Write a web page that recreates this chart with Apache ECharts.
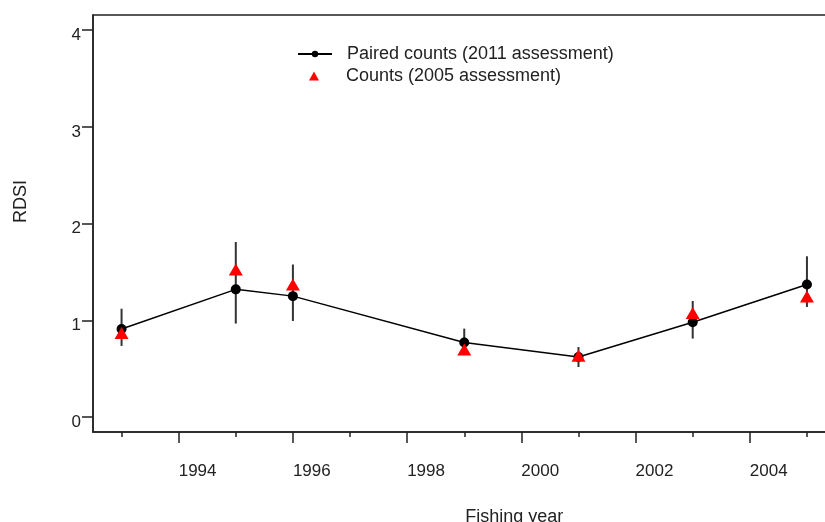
<!DOCTYPE html>
<html>
<head>
<meta charset="utf-8">
<script src="https://cdn.jsdelivr.net/npm/echarts@6/dist/echarts.min.js"></script>
<style>html,body{margin:0;padding:0;background:#fff;}#chart{width:825px;height:522px;}</style>
</head>
<body>
<div id="chart"></div>
<script>
var years = [1993, 1995, 1996, 1999, 2001, 2003, 2005];
var paired2011 = [0.91, 1.32, 1.25, 0.77, 0.62, 0.98, 1.37];
var pairedLow = [0.735, 0.966, 0.993, 0.64, 0.517, 0.811, 1.138];
var pairedHigh = [1.12, 1.81, 1.577, 0.914, 0.724, 1.20, 1.662];
var counts2005 = [0.87, 1.525, 1.371, 0.698, 0.633, 1.075, 1.245];
var majorTicks = [1994, 1996, 1998, 2000, 2002, 2004];
var minorTicks = [1993, 1995, 1997, 1999, 2001, 2003, 2005];
var yTicks = [0, 1, 2, 3, 4];

var FONT = '"Liberation Sans", Arial, sans-serif';
var INK = '#222';

var lineData = years.map(function (y, i) { return [y, paired2011[i]]; });
var errData = years.map(function (y, i) { return [y, pairedLow[i], pairedHigh[i]]; });
var triData = years.map(function (y, i) { return [y, counts2005[i]]; });

var chart = echarts.init(document.getElementById('chart'), null, {renderer: 'canvas'});
chart.setOption({
  animation: false,
  backgroundColor: '#fff',
  textStyle: {fontFamily: FONT},
  grid: {left: 93, top: 15, right: -10.5, bottom: 90, show: true, borderColor: INK, borderWidth: 1.5, backgroundColor: 'transparent', outerBoundsMode: 'none', containLabel: false},
  legend: [{
    data: [{name: 'Paired counts (2011 assessment)'}],
    left: 297, top: 45, padding: 0,
    itemWidth: 34, itemHeight: 8,
    textStyle: {fontSize: 18, color: INK, fontFamily: FONT, padding: [0, 0, 0, 10]},
    selectedMode: false
  }, {
    data: [{name: 'Counts (2005 assessment)', icon: 'triangle'}],
    left: 309, top: 67, padding: 0,
    itemWidth: 10, itemHeight: 9,
    textStyle: {fontSize: 18, color: INK, fontFamily: FONT, padding: [0, 0, 0, 22]},
    selectedMode: false
  }],
  xAxis: [{
    type: 'value', min: 1992.5, max: 2005.5,
    name: 'Fishing year', nameLocation: 'middle', nameGap: 76,
    nameTextStyle: {fontSize: 18, color: INK, fontFamily: FONT, padding: [0, 0, 0, 100]},
    axisLine: {show: true, onZero: false, lineStyle: {color: INK, width: 1.5}},
    axisTick: {show: true, length: 11, lineStyle: {color: INK, width: 1.5}, customValues: majorTicks},
    axisLabel: {show: true, fontSize: 17, color: INK, fontFamily: FONT, align: 'left', margin: 31, customValues: majorTicks, formatter: function (v) { return String(v); }},
    splitLine: {show: false}
  }, {
    type: 'value', min: 1992.5, max: 2005.5, position: 'bottom', gridIndex: 0,
    axisLine: {show: false, onZero: false},
    axisTick: {show: true, length: 5, lineStyle: {color: INK, width: 1.5}, customValues: minorTicks},
    axisLabel: {show: false},
    splitLine: {show: false}
  }],
  yAxis: {
    type: 'value', min: -0.155, max: 4.157,
    name: 'RDSI', nameLocation: 'middle', nameGap: 63, nameRotate: 90,
    nameTextStyle: {fontSize: 18, color: INK, fontFamily: FONT, padding: [0, 0, 0, 44]},
    axisLine: {show: true, onZero: false, lineStyle: {color: INK, width: 1.5}},
    axisTick: {show: true, length: 11, lineStyle: {color: INK, width: 1.5}, customValues: yTicks},
    axisLabel: {show: true, fontSize: 17, color: INK, fontFamily: FONT, margin: 12, verticalAlign: 'top', lineHeight: 10, customValues: yTicks},
    splitLine: {show: false}
  },
  series: [{
    name: 'errorbars', type: 'custom', xAxisIndex: 0, yAxisIndex: 0,
    data: errData,
    renderItem: function (params, api) {
      var x = api.value(0);
      var lo = api.coord([x, api.value(1)]);
      var hi = api.coord([x, api.value(2)]);
      return {type: 'line', shape: {x1: lo[0], y1: lo[1], x2: hi[0], y2: hi[1]}, style: {stroke: '#333', lineWidth: 2}};
    },
    z: 2, silent: true
  }, {
    name: 'Paired counts (2011 assessment)', type: 'line', data: lineData,
    symbol: 'circle', symbolSize: 10,
    itemStyle: {color: '#000'},
    lineStyle: {color: '#000', width: 1.5},
    z: 3, silent: true
  }, {
    name: 'Counts (2005 assessment)', type: 'scatter', data: triData,
    symbol: 'triangle', symbolSize: [14, 12],
    itemStyle: {color: '#ff0000', opacity: 1},
    z: 4, silent: true
  }]
});
</script>
</body>
</html>
